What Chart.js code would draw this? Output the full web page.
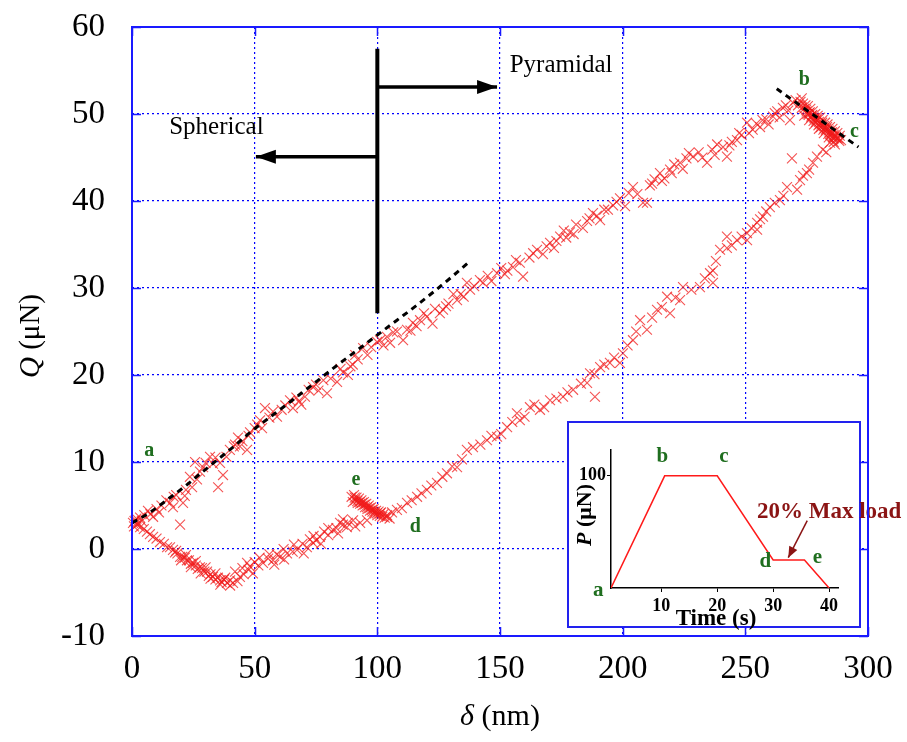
<!DOCTYPE html>
<html>
<head>
<meta charset="utf-8">
<script src="https://cdn.jsdelivr.net/npm/chart.js@4.4.0/dist/chart.umd.min.js"></script>
<style>
  html, body { margin: 0; padding: 0; background: #fff; }
  #wrap { position: relative; width: 907px; height: 742px; }
  #wrap canvas { position: absolute; }
</style>
</head>
<body>
<div id="wrap">
  <canvas id="mainChart" width="907" height="742" style="left:0;top:0"></canvas>
  <canvas id="insetChart" width="347" height="225" style="left:560px;top:415px"></canvas>
  <canvas id="frame" width="907" height="742" style="left:0;top:0"></canvas>
</div>
<script>
/* ---- Main plot data: [delta (nm), Q (uN)] ---- */

// a -> b, loading
const loadBranch = [
  [0.4,3.0],[1.5,3.3],[2.5,2.9],[3.3,3.6],[4,3.2],[5,3.9],[6.5,4.4],[7.5,4.0],[8.6,3.7],[10,4.6],
  [11,4.2],[12,5.0],[14,5.6],[15.5,5.3],[16.7,4.8],[17,6.0],[18,6.2],[19.6,2.8],[20.8,5.3],[21.5,6.1],
  [22,6.8],[23.6,8.3],[24.5,7.1],[25.7,10.0],[26.5,8.0],[27.7,8.9],[29,9.4],[30,9.9],[31.8,10.6],[33,9.8],
  [34,10.5],[35.1,7.1],[35.9,9.9],[37.1,8.5],[38.5,10.6],[39.9,11.4],[41.5,11.8],[42,12.0],[43.2,12.8],[44,11.8],
  [45,12.4],[46.9,11.4],[47.5,13.0],[48.1,13.4],[50,13.9],[51,14.3],[52.2,14.8],[53,13.9],[54.2,16.2],[56,15.1],
  [57.5,15.8],[59.1,15.2],[61,16.0],[62.5,16.5],[64.4,17.1],[65.6,16.2],[67,17.4],[68,17.0],[69,16.6],[70.5,17.5],
  [72,18.3],[73.8,18.6],[75,18.9],[76,18.2],[78,19.4],[79.5,17.9],[81,19.6],[83.6,19.2],[85,20.7],[86,20.3],
  [88,20.0],[89,21.0],[90,21.2],[91,22.3],[92,21.8],[94.2,23.1],[96,22.3],[97.5,23.2],[99.9,23.8],[101.1,24.0],
  [102.5,23.4],[103.9,24.4],[105.2,23.7],[106.5,24.9],[108,25.0],[110.5,24.0],[112.1,25.2],[113.5,25.1],[114.5,26.0],[116,25.6],
  [117.4,26.3],[119,27.1],[120.2,26.7],[122.5,25.9],[123.5,27.6],[125.5,27.1],[126.8,27.5],[128,27.9],[129,28.2],[131,29.3],
  [132.5,28.6],[134,29.3],[135.2,29.0],[136.5,30.6],[137.8,29.8],[139.5,30.2],[141.8,30.9],[143.1,30.6],[145,31.4],[146.5,30.8],
  [148.8,31.7],[150.5,32.3],[152,31.6],[153,32.0],[155.3,32.4],[156.5,33.2],[158.1,32.9],[159.4,31.3],[162,33.5],[163.5,34.0],
  [165.1,34.4],[167.5,33.9],[169,34.8],[170.4,35.2],[172,34.6],[173,35.4],[174.5,35.9],[176,36.6],[177,35.8],[178.5,36.4],
  [180,36.2],[181,37.3],[183.8,36.9],[185.5,37.7],[186.5,38.0],[187.9,38.6],[189.5,38.3],[190.8,37.8],[192.5,39.0],[194,39.0],
  [196.1,39.5],[197.5,39.9],[198.9,40.3],[201,39.4],[202.5,40.9],[204.2,41.6],[206,40.8],[208.3,39.8],[209.9,39.8],[211.1,41.8],
  [212,42.0],[213,42.5],[215.2,43.2],[216,42.3],[217,42.6],[219.3,43.6],[220,43.2],[221,44.2],[223.4,44.4],[224.5,43.7],
  [226,44.9],[227,45.5],[228.7,45.1],[231,45.6],[232.5,45.0],[234.4,44.4],[236.5,45.9],[237.5,45.3],[238.5,46.5],[240.9,46.2],
  [242.5,45.1],[243.5,46.4],[244.5,46.8],[246.6,47.0],[247.5,47.8],[248.5,47.6],[250.7,49.0],[251.5,47.8],[253,48.2],[254.5,48.9],
  [256,48.5],[257,49.3],[258.5,49.4],[259.5,48.8],[261.3,49.7],[262,50.1],[263,50.3],[264,49.6],[265.3,50.7],[266.5,51.0],
  [267.5,50.4],[268.2,49.3],[269.4,51.3]
];

// b -> c, hold at max load
const topHold = [
  [270.5,51.6],[271.5,51.0],[272.5,51.4],[273,50.7],[273.5,51.2],[274,50.6],[274.5,51.0],[275,50.3],[275.5,50.9],[276,50.1],
  [276.5,50.6],[277,49.8],[277.5,50.3],[278,49.6],[278.5,50.0],[279,49.3],[279.5,49.8],[280,49.1],[280.5,49.6],[281,48.8],
  [281.5,49.3],[282,48.6],[282.5,49.0],[283,48.3],[283.5,48.8],[284,48.1],[284.5,48.5],[285,47.8],[285.5,48.3],[286,47.6],
  [286.5,48.0],[287,47.4],[287.5,47.8],[288,47.2],[288.5,47.5],[289,47.0],[275.8,49.9],[277.8,49.2],[279.8,48.7],[281.8,48.2],
  [283.8,47.7],[285.8,47.2],[274,49.8],[276,49.3],[278,48.8],[280,48.3],[282,47.8],[284,47.3],[286,46.8],[273,51.8],
  [274.8,50.5],[275.3,50.0],[276.3,50.2],[276.8,49.6],[277.3,49.9],[278.3,49.5],[278.8,49.1],[279.3,49.5],[280.3,48.9],[280.8,48.5],
  [281.3,49.0],[282.3,48.4],[282.8,48.1],[283.3,48.5],[284.3,47.9],[284.8,47.6],[285.3,47.9],[286.3,47.4],[287.3,47.2],[288.3,46.9]
];

// c -> d, unloading
const unloadBranch = [
  [286.5,46.5],[285.7,47.4],[284.5,46.7],[283,45.6],[281.6,45.9],[279.2,45.1],[277.6,44.4],[276,43.6],[275.1,43.2],[273.5,42.9],
  [272.3,42.4],[271.1,41.3],[269.0,44.9],[267.0,41.6],[265.5,40.6],[264.1,40.1],[262,39.8],[260.0,39.3],[258.5,38.8],[257.2,38.2],
  [256,37.9],[254.8,37.5],[254.8,36.7],[252.5,36.9],[250.7,36.3],[250.7,35.5],[248.5,35.9],[246.6,35.5],[244.5,34.9],[242.5,34.6],
  [242.5,35.9],[239.7,34.4],[238,33.1],[236.8,32.0],[235.6,31.7],[236.8,30.6],[233.5,31.1],[231.5,30.1],[228,29.8],[224.6,30.1],
  [223.4,28.6],[221.5,28.9],[219.3,27.1],[218.1,29.0],[216,27.8],[214.0,27.5],[212,26.6],[209.9,25.2],[207.1,26.3],[205.5,25.0],
  [204.2,24.0],[202,23.4],[200.1,22.5],[198.9,21.4],[196.5,22.0],[194.8,21.4],[192.5,21.2],[190.8,20.9],[188.5,20.1],[186.7,20.2],
  [185.5,19.1],[188.7,17.5],[183,19.0],[179.8,18.3],[177.5,18.0],[175.7,17.5],[173,17.3],[170.4,17.1],[168,16.3],[166.3,16.0],
  [164,16.6],[162.2,16.3],[160,15.2],[158.1,14.8],[156.9,15.6],[155,14.6],[152.9,14.0],[150.5,13.2],[148.8,12.9],[146.5,13.0],
  [144.7,12.5],[142,12.0],[139.0,11.7],[136.5,11.4],[134.5,10.3],[132.5,9.4],[130.5,9.5],[128.4,8.7],[126.5,8.3],[124.3,7.6],
  [122,7.3],[120.2,6.8],[118,6.4],[116.2,6.0],[114,5.6],[112.1,5.3],[110,4.7],[108.0,4.5],[106,4.2],[103.9,3.7],[101.1,4.1]
];

// d -> e, hold at 20% load
const lowHold = [
  [89.5,6.0],[90,5.4],[90.5,6.2],[91,5.6],[91.5,5.9],[92,5.3],[92.5,5.8],[93,5.2],[93.5,5.6],[94,5.0],
  [94.5,5.4],[95,4.8],[95.5,5.2],[96,4.6],[96.5,5.0],[97,4.4],[97.5,4.8],[98,4.3],[98.5,4.6],[99,4.1],
  [99.5,4.4],[100,3.9],[100.5,4.3],[101,3.8],[101.5,4.2],[102,3.7],[102.5,4.0],[103,3.6],[104,3.9],[105,3.5],
  [90.8,5.9],[91.8,5.5],[92.8,5.4],[93.8,5.3],[94.8,5.1],[95.8,4.8],[96.8,4.7],[97.8,4.5],[98.8,4.3],[99.8,4.1]
];

// e -> end, final unloading
const finalBranch = [
  [95.8,3.3],[93,3.0],[91,2.6],[90.1,3.3],[88,3.0],[87.6,2.5],[86,2.8],[86,3.4],[84.8,3.0],[84,1.8],
  [83.3,2.4],[81.9,2.2],[80,1.6],[80,2.4],[78.3,2.0],[77,0.6],[76.6,1.4],[75,1.0],[74,1.5],[73.8,0.7],
  [72.5,1.1],[71.3,0.2],[70,-0.5],[69.5,0.6],[67.3,-0.1],[66,0.5],[65.5,-0.3],[63.2,-0.5],[62,-1.2],[61.8,0.0],
  [60.3,-0.9],[59,-0.6],[58,-1.8],[57.5,-1.3],[56,-0.6],[55.5,-1.1],[53.4,-1.6],[52,-1.0],[51.5,-1.9],[50,-1.5],
  [49.3,-2.8],[48,-2.0],[47.5,-2.4],[46.9,-1.6],[45.5,-2.9],[45,-2.2],[44.0,-3.2],[43,-3.7],[42,-2.6],[41.2,-3.9],
  [40,-3.6],[40,-4.2],[38.7,-3.9],[38,-3.3],[37.5,-3.5],[36.5,-3.8],[36,-4.1],[35.9,-3.6],[35,-3.3],[34,-3.5],
  [34,-2.8],[33.0,-3.2],[32,-2.9],[32,-3.4],[31.3,-3.1],[30.6,-2.6],[30,-2.1],[29.5,-2.6],[28.5,-2.2],[28,-2.8],
  [27.7,-2.1],[26.8,-2.3],[26,-1.9],[26,-1.4],[24.9,-1.6],[24,-1.7],[24,-2.1],[23.2,-1.3],[22.4,-1.3],[22,-0.7],
  [21.5,-1.0],[20.5,-0.9],[20,-1.3],[19.6,-0.9],[18.5,-0.5],[18,-0.2],[17.5,-0.4],[16.7,-0.1],[15.5,0.2],[14.3,0.2],
  [13,0.6],[11.4,0.8],[10,1.2],[8.6,1.4],[7.3,1.7],[6.1,2.0],[4.8,2.3],[3.3,2.5],[2,2.8],[1,3.2],
  [0.8,2.6],[1.8,3.5]
];

// dashed fits
const sphericalFit = [
  [0,3],[7.3,4.2],[15,5.8],[22,7.3],[28,8.7],[34.6,10.2],[42,11.9],[49,13.6],[56,15.1],[63,16.6],
  [69,17.9],[75.4,19.3],[84,21.2],[93,23.1],[100,24.6],[108,26.3],[116,28.0],[124,29.8],[130,31.2],[137,32.9]
];
const pyramidalFit = [[262.8,52.9],[296.1,46.2]];

// boundary marker and arrows
const stemLine = [[100,27.1],[100,57.5]];
const pyrArrow = [[100,53.1],[148.8,53.1]];
const sphArrow = [[100,45.1],[50.5,45.1]];

const xTickStep = 50, yTickStep = 10;
const xRange = [0, 300], yRange = [-10, 60];

// letters on main plot
const mainLetters = [["a",7,11.3],["b",274,53.9],["c",294.5,48],["d",115.5,2.5],["e",91.3,7.9]];
const mainNotes = [["Spherical",34.4,48.5],["Pyramidal",174.9,55.6]];

/* ---- Inset data: time (s) vs P (uN) ---- */
const insetTime = [1, 10.6, 20, 30, 35.6, 40];
const insetLoad = [0, 100, 100, 25, 25, 0];
const insetXTicks = [10, 20, 30, 40];
const insetYTicks = [100];
const insetLetters = [["a",-1.3,-2],["b",10.2,117],["c",21.2,117],["d",28.6,23.5],["e",37.9,27.5]];

const serif = "'Liberation Serif', 'Times New Roman', serif";
const green = "#1f6e1f";

const toPts = arr => arr.map(p => ({ x: p[0], y: p[1] }));

function arrowHead(ctx, x0, y0, x1, y1, len, half, color) {
  const a = Math.atan2(y1 - y0, x1 - x0);
  ctx.fillStyle = color;
  ctx.beginPath();
  ctx.moveTo(x1, y1);
  ctx.lineTo(x1 - len * Math.cos(a) + half * Math.sin(a), y1 - len * Math.sin(a) - half * Math.cos(a));
  ctx.lineTo(x1 - len * Math.cos(a) - half * Math.sin(a), y1 - len * Math.sin(a) + half * Math.cos(a));
  ctx.closePath();
  ctx.fill();
}

function drawMixed(ctx, parts, cx, cy, rot) {
  ctx.save();
  ctx.translate(cx, cy);
  if (rot) ctx.rotate(rot);
  let total = 0;
  parts.forEach(p => { ctx.font = p.font; total += ctx.measureText(p.text).width; });
  let xx = -total / 2;
  ctx.textBaseline = "middle";
  ctx.textAlign = "left";
  ctx.fillStyle = "#000";
  parts.forEach(p => {
    ctx.font = p.font;
    ctx.fillText(p.text, xx, 0);
    xx += ctx.measureText(p.text).width;
  });
  ctx.restore();
}

// nudge layout padding until the plot area sits where the reference has it
function pinArea(chart, want) {
  const pad = chart.options.layout.padding;
  for (let i = 0; i < 3; i++) {
    const a = chart.chartArea;
    const dt = want.top - a.top, dr = a.right - want.right;
    if (Math.abs(dt) < 0.5 && Math.abs(dr) < 0.5) break;
    pad.top += dt;
    pad.right += dr;
    chart.update();
  }
}

const mainDecor = {
  id: "mainDecor",
  afterDatasetsDraw(chart) {
    const { ctx, scales: { x, y } } = chart;
    ctx.save();
    [pyrArrow, sphArrow].forEach(a => {
      arrowHead(ctx, x.getPixelForValue(a[0][0]), y.getPixelForValue(a[0][1]),
        x.getPixelForValue(a[1][0]), y.getPixelForValue(a[1][1]), 20, 7, "#000");
    });
    ctx.font = "25px " + serif;
    ctx.fillStyle = "#000";
    ctx.textAlign = "center";
    ctx.textBaseline = "middle";
    mainNotes.forEach(n => ctx.fillText(n[0], x.getPixelForValue(n[1]), y.getPixelForValue(n[2])));
    ctx.font = "bold 20px " + serif;
    ctx.fillStyle = green;
    mainLetters.forEach(l => ctx.fillText(l[0], x.getPixelForValue(l[1]), y.getPixelForValue(l[2])));
    ctx.restore();
  },
  afterDraw(chart) {
    const ctx = chart.ctx;
    drawMixed(ctx, [
      { text: "Q", font: "italic 29px " + serif },
      { text: " (\u03BCN)", font: "29px " + serif }
    ], 31, 336, -Math.PI / 2);
    drawMixed(ctx, [
      { text: "\u03B4", font: "italic 30px " + serif },
      { text: " (nm)", font: "30px " + serif }
    ], 500, 717, 0);
  }
};

const crossStyle = {
  pointStyle: "crossRot",
  pointRadius: 7,
  pointBorderWidth: 1.1,
  borderColor: "rgba(240,25,25,0.75)",
  backgroundColor: "rgba(240,25,25,0.75)",
  showLine: false,
  clip: false
};

const blackLine = (data, width, dash) => ({
  data: toPts(data),
  showLine: true,
  borderColor: "#000",
  borderWidth: width,
  borderDash: dash,
  pointRadius: 0,
  cubicInterpolationMode: "monotone",
  fill: false
});

const mainChart = new Chart(document.getElementById("mainChart"), {
  type: "scatter",
  data: {
    datasets: [
      { ...blackLine(stemLine, 4, []), order: 0 },
      { ...blackLine(pyrArrow, 3.5, []), order: 0 },
      { ...blackLine(sphArrow, 3.5, []), order: 0 },
      { ...blackLine(sphericalFit, 3, [6, 5]), order: 1 },
      { ...blackLine(pyramidalFit, 3, [6, 5]), order: 1 },
      { ...crossStyle, data: toPts(loadBranch), order: 2 },
      { ...crossStyle, data: toPts(topHold), order: 2 },
      { ...crossStyle, data: toPts(unloadBranch), order: 2 },
      { ...crossStyle, data: toPts(lowHold), order: 2 },
      { ...crossStyle, data: toPts(finalBranch), order: 2 }
    ]
  },
  options: {
    responsive: false,
    animation: false,
    layout: { padding: { left: 0, right: 39, top: 27, bottom: 0 } },
    plugins: { legend: { display: false }, tooltip: { enabled: false } },
    scales: {
      x: {
        type: "linear",
        min: xRange[0], max: xRange[1],
        ticks: { stepSize: xTickStep, padding: 0, color: "#000", maxRotation: 0,
                 font: { family: serif, size: 33 } },
        grid: { color: "#0000ff", lineWidth: 1.2, drawTicks: true, tickLength: 14, tickColor: "rgba(0,0,0,0)" },
        border: { display: false, dash: [2, 3] },
        afterFit: s => { s.height = 106; }
      },
      y: {
        type: "linear",
        min: yRange[0], max: yRange[1],
        ticks: { stepSize: yTickStep, padding: 0, color: "#000",
                 font: { family: serif, size: 33 } },
        grid: { color: "#0000ff", lineWidth: 1.2, drawTicks: true, tickLength: 27, tickColor: "rgba(0,0,0,0)" },
        border: { display: false, dash: [2, 3] },
        afterFit: s => { s.width = 132; }
      }
    }
  },
  plugins: [mainDecor]
});
pinArea(mainChart, { top: 27, right: 868 });

/* ---- Inset ---- */
const insetBox = { left: 8, top: 7, right: 300, bottom: 212 };

const insetDecor = {
  id: "insetDecor",
  beforeDraw(chart) {
    const ctx = chart.ctx;
    ctx.save();
    ctx.fillStyle = "#fff";
    ctx.fillRect(insetBox.left, insetBox.top, insetBox.right - insetBox.left, insetBox.bottom - insetBox.top);
    ctx.strokeStyle = "#2222ee";
    ctx.lineWidth = 2;
    ctx.strokeRect(insetBox.left, insetBox.top, insetBox.right - insetBox.left, insetBox.bottom - insetBox.top);
    ctx.restore();
  },
  afterDraw(chart) {
    const { ctx, scales: { x, y } } = chart;
    ctx.save();
    drawMixed(ctx, [{ text: "Time (s)", font: "bold 23px " + serif }], 156, 204, 0);
    drawMixed(ctx, [
      { text: "P", font: "bold italic 22px " + serif },
      { text: " (\u03BCN)", font: "bold 22px " + serif }
    ], 25, 100, -Math.PI / 2);

    ctx.font = "bold 21px " + serif;
    ctx.fillStyle = green;
    ctx.textAlign = "center";
    ctx.textBaseline = "middle";
    insetLetters.forEach(l => ctx.fillText(l[0], x.getPixelForValue(l[1]), y.getPixelForValue(l[2])));

    // 20% max load note with arrow
    const maroon = "#8b1414";
    ctx.font = "bold 23px " + serif;
    ctx.fillStyle = maroon;
    ctx.textAlign = "left";
    ctx.fillText("20% Max load", x.getPixelForValue(27.1), y.getPixelForValue(68));
    const tx = x.getPixelForValue(36.1), ty = y.getPixelForValue(60);
    const hx = x.getPixelForValue(32.7), hy = y.getPixelForValue(27);
    ctx.strokeStyle = maroon;
    ctx.lineWidth = 1.5;
    ctx.beginPath();
    ctx.moveTo(tx, ty);
    ctx.lineTo(hx, hy);
    ctx.stroke();
    arrowHead(ctx, tx, ty, hx, hy, 11, 4.5, maroon);
    ctx.restore();
  }
};

const insetChart = new Chart(document.getElementById("insetChart"), {
  type: "line",
  data: {
    datasets: [{
      data: insetTime.map((t, i) => ({ x: t, y: insetLoad[i] })),
      borderColor: "#ff1a1a",
      borderWidth: 1.5,
      pointRadius: 0,
      tension: 0,
      fill: false
    }]
  },
  options: {
    responsive: false,
    animation: false,
    layout: { padding: { left: 0, right: 69, top: 35, bottom: 0 } },
    plugins: { legend: { display: false }, tooltip: { enabled: false } },
    scales: {
      x: {
        type: "linear",
        min: 1, max: 41.6,
        afterBuildTicks: s => { s.ticks = insetXTicks.map(v => ({ value: v })); },
        ticks: { padding: 4, color: "#000", maxRotation: 0, font: { family: serif, size: 18, weight: "bold" } },
        grid: { drawOnChartArea: false, drawTicks: true, tickLength: 4, color: "#000" },
        border: { display: true, color: "#000", width: 1.5 },
        afterFit: s => { s.height = 52; }
      },
      y: {
        type: "linear",
        min: 0, max: 123,
        afterBuildTicks: s => { s.ticks = insetYTicks.map(v => ({ value: v })); },
        ticks: { padding: 1, color: "#000", font: { family: serif, size: 18, weight: "bold" } },
        grid: { drawOnChartArea: false, drawTicks: true, tickLength: 4, color: "#000" },
        border: { display: true, color: "#000", width: 1.5 },
        afterFit: s => { s.width = 51; }
      }
    }
  },
  plugins: [insetDecor]
});
pinArea(insetChart, { top: 35, right: 278 });

/* ---- Main frame, drawn above the inset ---- */
function drawFrame(chart) {
  const ctx = document.getElementById("frame").getContext("2d");
  const { left, right, top, bottom } = chart.chartArea;
  const x = chart.scales.x, y = chart.scales.y;
  ctx.strokeStyle = "#1a1aff";
  ctx.lineWidth = 2;
  ctx.strokeRect(left, top, right - left, bottom - top);
  ctx.lineWidth = 1.5;
  ctx.beginPath();
  x.ticks.forEach(t => {
    const px = Math.round(x.getPixelForValue(t.value)) + 0.5;
    ctx.moveTo(px, bottom); ctx.lineTo(px, bottom - 9);
    ctx.moveTo(px, top); ctx.lineTo(px, top + 9);
  });
  y.ticks.forEach(t => {
    const py = Math.round(y.getPixelForValue(t.value)) + 0.5;
    ctx.moveTo(left, py); ctx.lineTo(left + 9, py);
    ctx.moveTo(right, py); ctx.lineTo(right - 9, py);
  });
  ctx.stroke();
}
drawFrame(mainChart);
</script>
</body>
</html>
